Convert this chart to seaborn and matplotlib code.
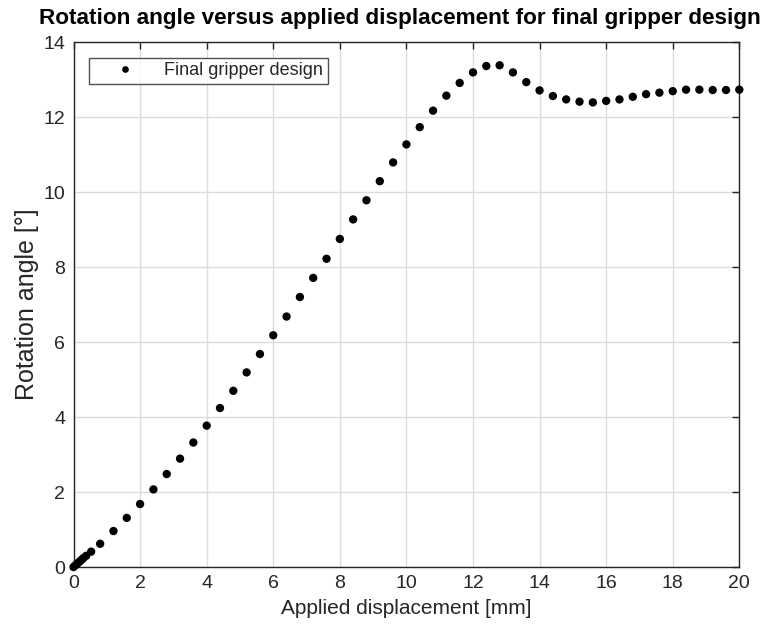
import matplotlib
matplotlib.use("Agg")
import matplotlib.pyplot as plt
import seaborn as sns
import pandas as pd

displacement = [0, 0.05, 0.1, 0.15, 0.2, 0.25, 0.3, 0.38, 0.53, 0.8,
                1.2, 1.6, 2.0, 2.4, 2.8, 3.2, 3.6, 4.0, 4.4, 4.8,
                5.2, 5.6, 6.0, 6.4, 6.8, 7.2, 7.6, 8.0, 8.4, 8.8,
                9.2, 9.6, 10.0, 10.4, 10.8, 11.2, 11.6, 12.0, 12.4, 12.8,
                13.2, 13.6, 14.0, 14.4, 14.8, 15.2, 15.6, 16.0, 16.4, 16.8,
                17.2, 17.6, 18.0, 18.4, 18.8, 19.2, 19.6, 20.0]
rotation = [0, 0.04, 0.08, 0.12, 0.16, 0.2, 0.24, 0.3, 0.41, 0.62,
            0.96, 1.31, 1.68, 2.07, 2.48, 2.89, 3.32, 3.77, 4.24, 4.70,
            5.19, 5.68, 6.18, 6.68, 7.20, 7.71, 8.22, 8.75, 9.27, 9.78,
            10.29, 10.79, 11.27, 11.73, 12.17, 12.57, 12.91, 13.19, 13.36, 13.38,
            13.19, 12.93, 12.71, 12.56, 12.47, 12.41, 12.39, 12.43, 12.47, 12.54,
            12.61, 12.65, 12.69, 12.73, 12.73, 12.72, 12.72, 12.73]
series_label = "Final gripper design"
x_ticks = [0, 2, 4, 6, 8, 10, 12, 14, 16, 18, 20]
y_ticks = [0, 2, 4, 6, 8, 10, 12, 14]

sns.set_style("whitegrid")
plt.rcParams['font.family'] = ['Liberation Sans', 'DejaVu Sans']

df = pd.DataFrame({"x": displacement, "y": rotation, "s": series_label})

fig = plt.figure(figsize=(7.69, 6.32), dpi=100)
ax = fig.add_axes([0.0956, 0.1028, 0.9614 - 0.0956, 0.9335 - 0.1028])
sns.scatterplot(data=df, x="x", y="y", hue="s", palette=["black"], s=36,
                edgecolor="black", linewidth=0, ax=ax, clip_on=False, zorder=3)

ax.set_xlim(0, 20)
ax.set_ylim(0, 14)
ax.set_xticks(x_ticks)
ax.set_yticks(y_ticks)
ax.grid(True, color="#dcdcdc", linewidth=1)
for sp in ax.spines.values():
    sp.set_color("#262626")
    sp.set_linewidth(1)
ax.tick_params(direction="in", length=5, width=1, color="#262626",
               top=True, right=True, labelsize=14, labelcolor="#262626", pad=6)
ax.set_xlabel("Applied displacement [mm]", fontsize=15, color="#262626", labelpad=5)
ax.set_ylabel("Rotation angle [°]", fontsize=18, color="#262626", labelpad=3)
ax.set_title("Rotation angle versus applied displacement for final gripper design",
             fontsize=16.2, fontweight="bold", color="black", pad=13, x=0.49)

leg = ax.legend(loc="upper left", bbox_to_anchor=(0.024, 0.97), fontsize=13,
                frameon=True, fancybox=False, edgecolor="#262626",
                handletextpad=0.5, borderpad=0.25, handlelength=3.4, markerscale=0.8,
                borderaxespad=0)
leg.get_frame().set_linewidth(1)
for t in leg.get_texts():
    t.set_color("#262626")

fig.savefig("out.png", dpi=100)
